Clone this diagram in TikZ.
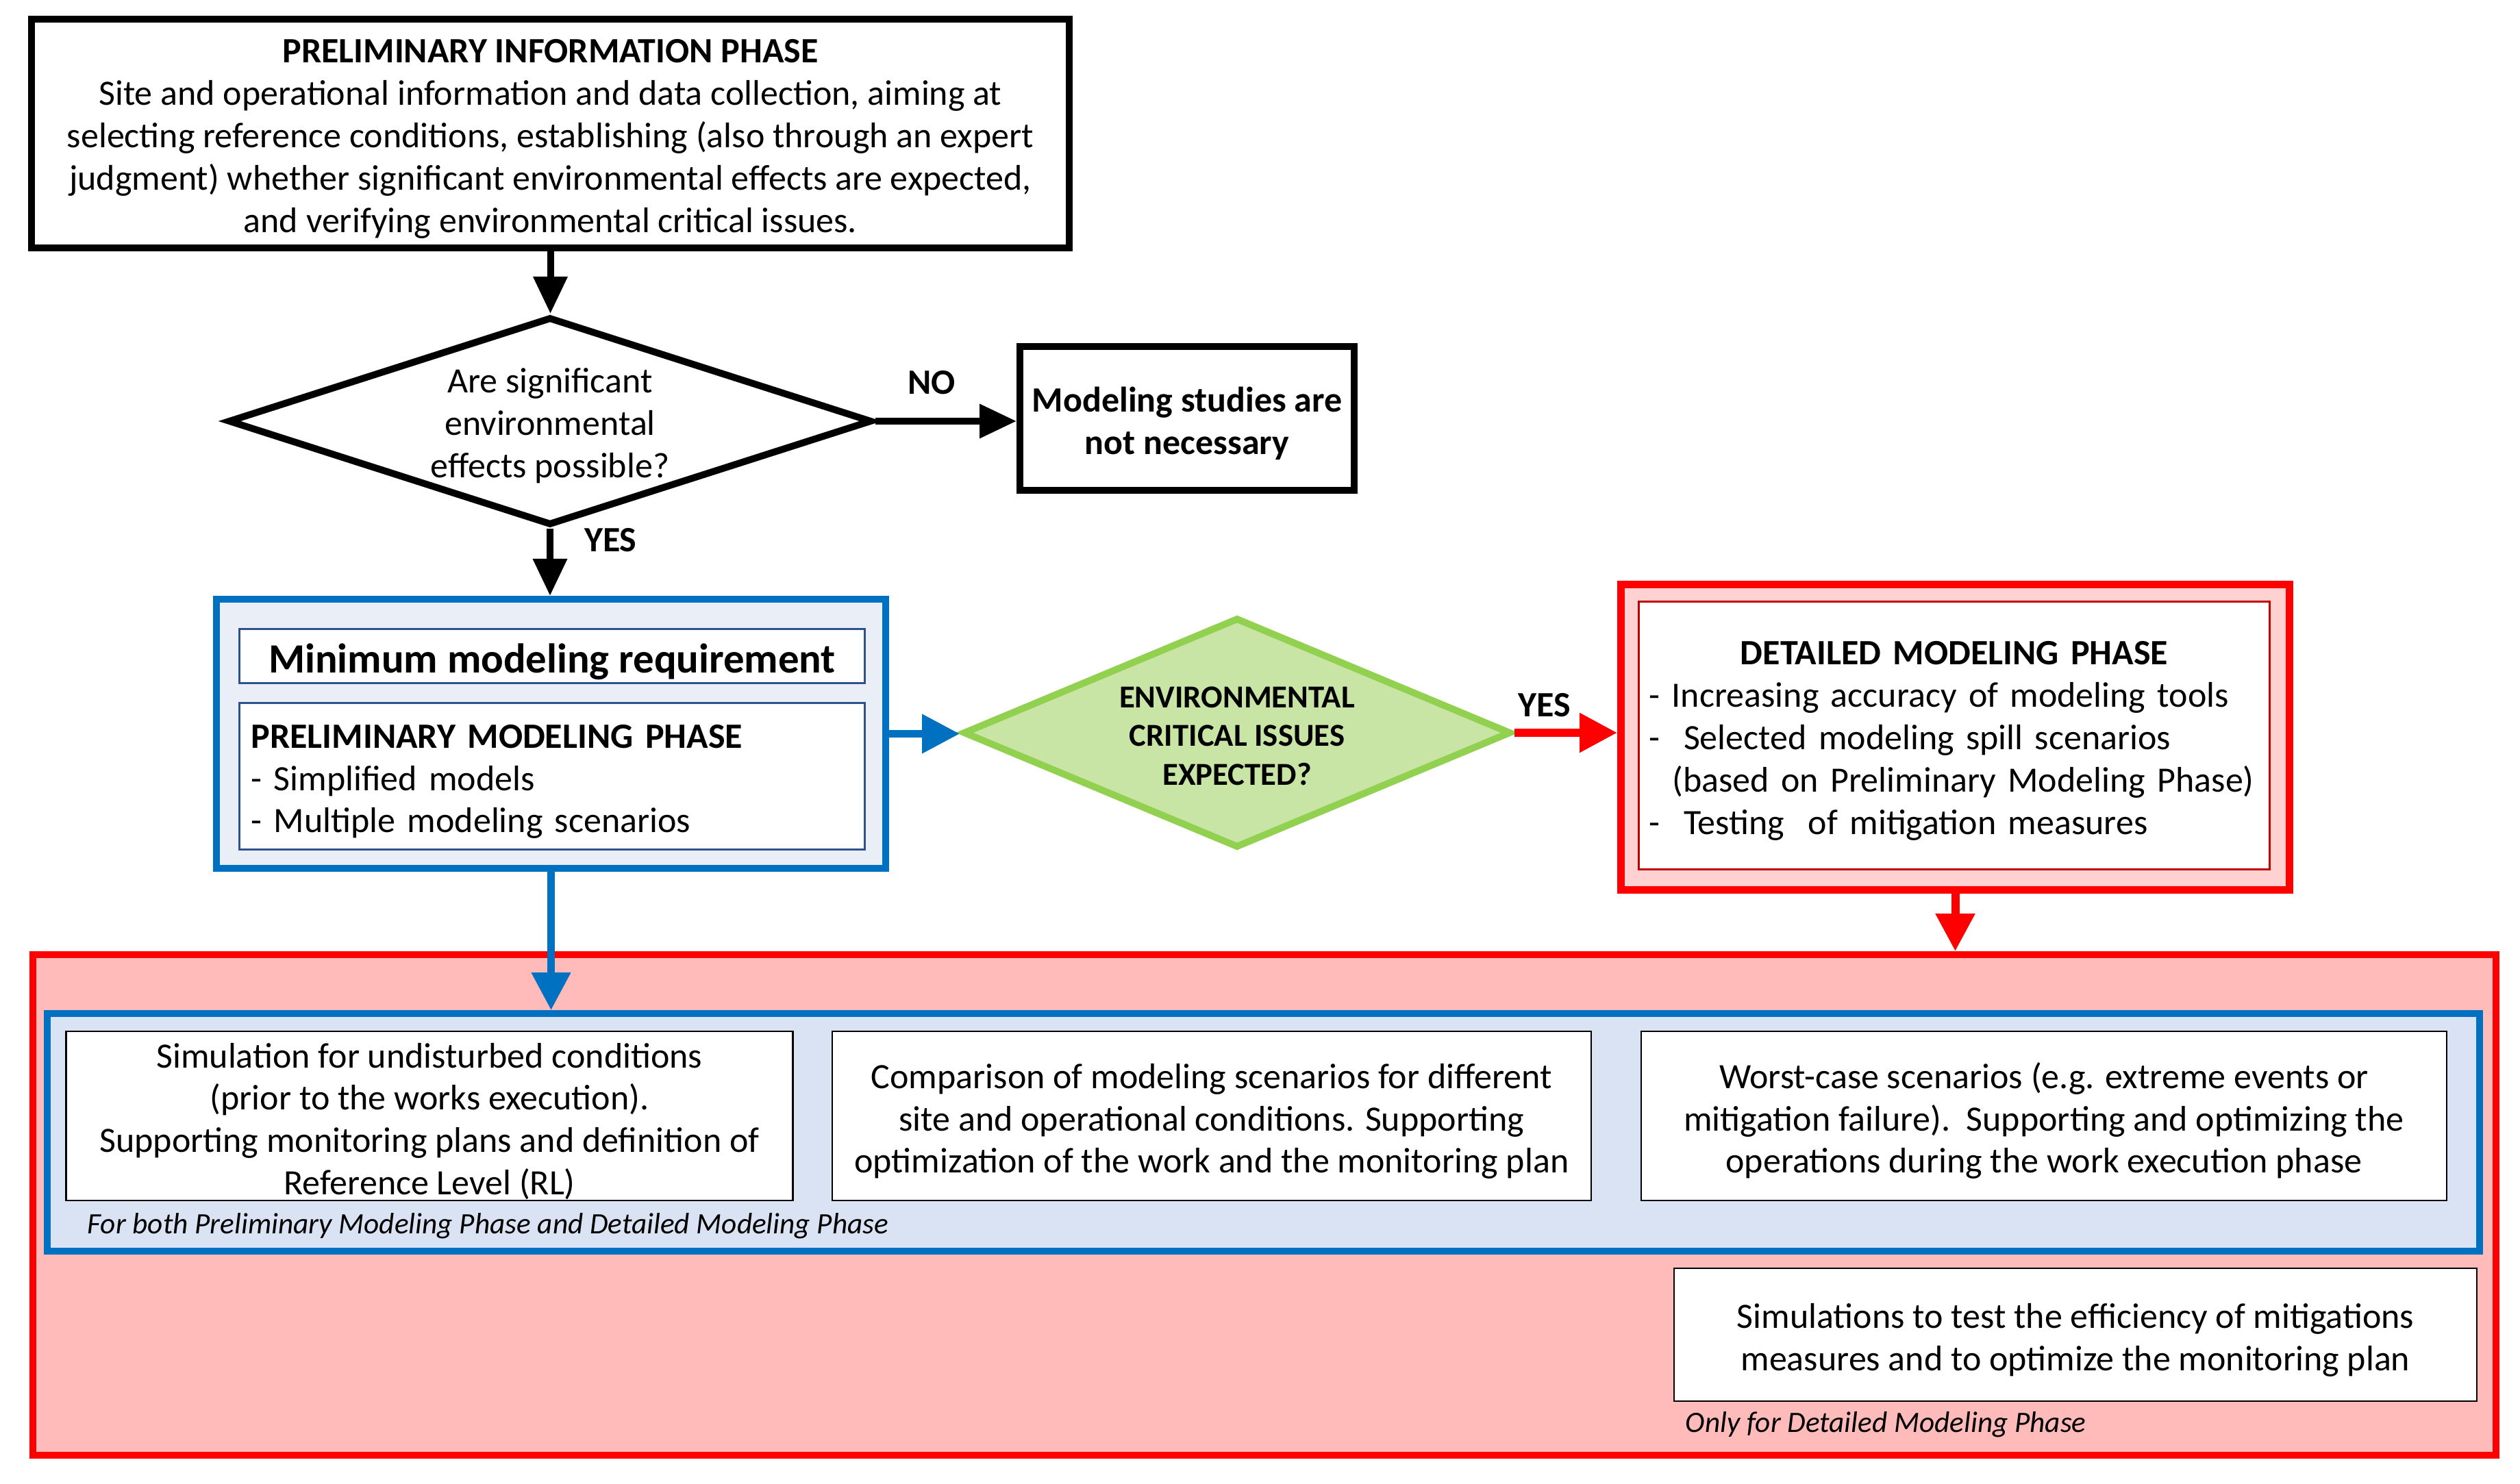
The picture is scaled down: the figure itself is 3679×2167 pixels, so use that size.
\documentclass[tikz,border=0pt]{standalone}
\usepackage{fontspec}
\setmainfont{Carlito}
\usepackage{tikz}
\usetikzlibrary{arrows.meta, shapes, positioning}

\definecolor{phaseblue}{RGB}{0,112,192}
\definecolor{phasenavy}{RGB}{47,82,143}
\definecolor{minfill}{RGB}{234,239,247}
\definecolor{bothfill}{RGB}{218,227,243}
\definecolor{issuegreen}{RGB}{146,208,80}
\definecolor{issuefill}{RGB}{201,229,166}
\definecolor{detailred}{RGB}{255,0,0}
\definecolor{innerred}{RGB}{192,0,0}
\definecolor{detailfill}{RGB}{255,209,209}
\definecolor{scopefill}{RGB}{255,186,186}

\newcommand{\txtbody}{\fontsize{14.8}{17.6}\selectfont}
\newcommand{\txtmid}{\fontsize{13.3}{16.1}\selectfont}
\newcommand{\txtbig}{\fontsize{17.3}{20}\selectfont}
\newcommand{\txtsmall}{\fontsize{12.3}{14.5}\selectfont}
% extra room above the first line, so the lines sit a little lower
\newcommand{\toproom}[1]{\rule{0pt}{#1}}

\begin{document}
\begin{tikzpicture}[
        % one unit is one pixel of the original figure
        x=0.1mm, y=-0.1mm,
        every node/.style={font=\txtbody, inner sep=0pt},
        blackbox/.style={draw=black, line width=1mm, fill=white, align=center},
        question/.style={diamond, aspect=3, draw=black, line width=1mm, align=center},
        thinbox/.style={draw=black, line width=0.25mm, fill=white, align=center},
        navybox/.style={draw=phasenavy, line width=0.3mm, fill=white},
        answer/.style={font=\txtbody\bfseries},
        note/.style={font=\txtsmall\itshape, anchor=west},
        blackarrow/.style={draw=black, line width=1mm, -{Triangle[length=5.4mm, width=4.8mm]}},
        bluearrow/.style={draw=phaseblue, line width=1.1mm, -{Triangle[length=5.5mm, width=5.5mm]}},
        redarrow/.style={draw=detailred, line width=1.2mm, -{Triangle[length=5.5mm, width=5.5mm]}}
    ]
    \useasboundingbox (0,0) rectangle (3679,2167);

    % results, drawn first so that they stay at the back
    \node[draw=detailred, line width=1mm, fill=scopefill,
        minimum width=359.6mm, minimum height=73.1mm] (scope) at (1846,1759.5) {};
    \node[draw=phaseblue, line width=1mm, fill=bothfill,
        minimum width=355.1mm, minimum height=34.7mm] (bothphases) at (1844.5,1653.5) {};
    \node[thinbox, minimum width=106.1mm, minimum height=24.7mm] (undisturbed) at (627,1629.5)
        {\toproom{5.2mm}Simulation for undisturbed conditions\\
         (prior to the works execution).\\
         Supporting monitoring plans and definition of\\
         Reference Level (RL)};
    \node[thinbox, minimum width=110.8mm, minimum height=24.7mm] (comparison) at (1769,1629.5)
        {\toproom{5.2mm}Comparison of modeling scenarios for different\\
         site and operational conditions. Supporting\\
         optimization of the work and the monitoring plan};
    \node[thinbox, minimum width=117.6mm, minimum height=24.7mm] (worstcase) at (2984,1629.5)
        {\toproom{5.2mm}Worst-case scenarios (e.g. extreme events or\\
         mitigation failure).\ \ Supporting and optimizing the\\
         operations during the work execution phase};
    \node[note] (bothnote) at (127,1790)
        {For both Preliminary Modeling Phase and Detailed Modeling Phase};
    \node[thinbox, minimum width=117.2mm, minimum height=19.4mm] (mitigation) at (3030,1949)
        {\toproom{5.2mm}Simulations to test the efficiency of mitigations\\
         measures and to optimize the monitoring plan};
    \node[note] (detailnote) at (2460,2080) {Only for Detailed Modeling Phase};

    % first check
    \node[blackbox, minimum width=151.5mm, minimum height=33.4mm] (info) at (803.5,195)
        {\toproom{5mm}\textbf{PRELIMINARY INFORMATION PHASE}\\
         Site and operational information and data collection, aiming at\\
         selecting reference conditions, establishing (also through an expert\\
         judgment) whether significant environmental effects are expected,\\
         and verifying environmental critical issues.};
    \node[question, minimum width=94mm, minimum height=30.4mm] (effects) at (803,615)
        {\toproom{5mm}Are significant\\environmental\\effects possible?};
    \node[blackbox, font=\txtbody\bfseries, minimum width=48.8mm, minimum height=21mm] (nomodel) at (1733,611)
        {\toproom{5.2mm}Modeling studies are\\not necessary};

    % minimum requirement
    \node[draw=phaseblue, line width=1mm, fill=minfill,
        minimum width=97.7mm, minimum height=39.3mm] (minreq) at (804.5,1071.5) {};
    \node[navybox, font=\txtbig\bfseries, minimum width=91.3mm, minimum height=7.9mm] (mintitle) at (806,958)
        {\toproom{6mm}Minimum modeling requirement};
    \node[navybox, align=left, text width=87.9mm, minimum width=91.3mm, minimum height=21.4mm] (prelim) at (806,1133.5)
        {\toproom{5mm}\textbf{PRELIMINARY MODELING PHASE}\\
         - Simplified models\\
         - Multiple modeling scenarios};

    % second check and detailed phase
    \node[question, aspect=2.5, draw=issuegreen, fill=issuefill, font=\txtmid\bfseries,
        minimum width=80mm, minimum height=33.6mm] (issues) at (1806,1070)
        {\toproom{4mm}ENVIRONMENTAL\\CRITICAL ISSUES\\EXPECTED?};
    \node[draw=detailred, line width=1.1mm, fill=detailfill,
        minimum width=97.6mm, minimum height=44.6mm] (detail) at (2854.5,1076.5) {};
    \node[draw=innerred, line width=0.3mm, fill=white, align=left, text width=89.1mm,
        minimum width=92.1mm, minimum height=39.1mm] (detailtext) at (2853,1074)
        {\centerline{\toproom{5mm}\textbf{DETAILED MODELING PHASE}}
         - Increasing accuracy of modeling tools\\
         -\ \ Selected modeling spill scenarios\\
         \hspace*{3.4mm}(based on Preliminary Modeling Phase)\\
         -\ \ Testing\ \ of mitigation measures};

    % connectors
    \draw[blackarrow] (info.south) -- (info.south |- effects.north);
    \draw[blackarrow] (effects.east) -- (effects.east -| nomodel.west)
        node[answer, pos=0.4, above=3.4mm] (no) {NO};
    \draw[blackarrow] (effects.south) -- (effects.south |- minreq.north)
        node[answer, pos=0.17, right=4.5mm] (yes) {YES};
    \draw[bluearrow] (minreq.east) -- (minreq.east -| issues.west);
    \draw[redarrow] (issues.east) -- (issues.east -| detail.west)
        node[answer, pos=0.29, above=1.7mm] (critical) {YES};
    \draw[redarrow] (detail.south) -- (detail.south |- scope.north);
    \draw[bluearrow] (minreq.south) -- (minreq.south |- bothphases.north);
\end{tikzpicture}
\end{document}
